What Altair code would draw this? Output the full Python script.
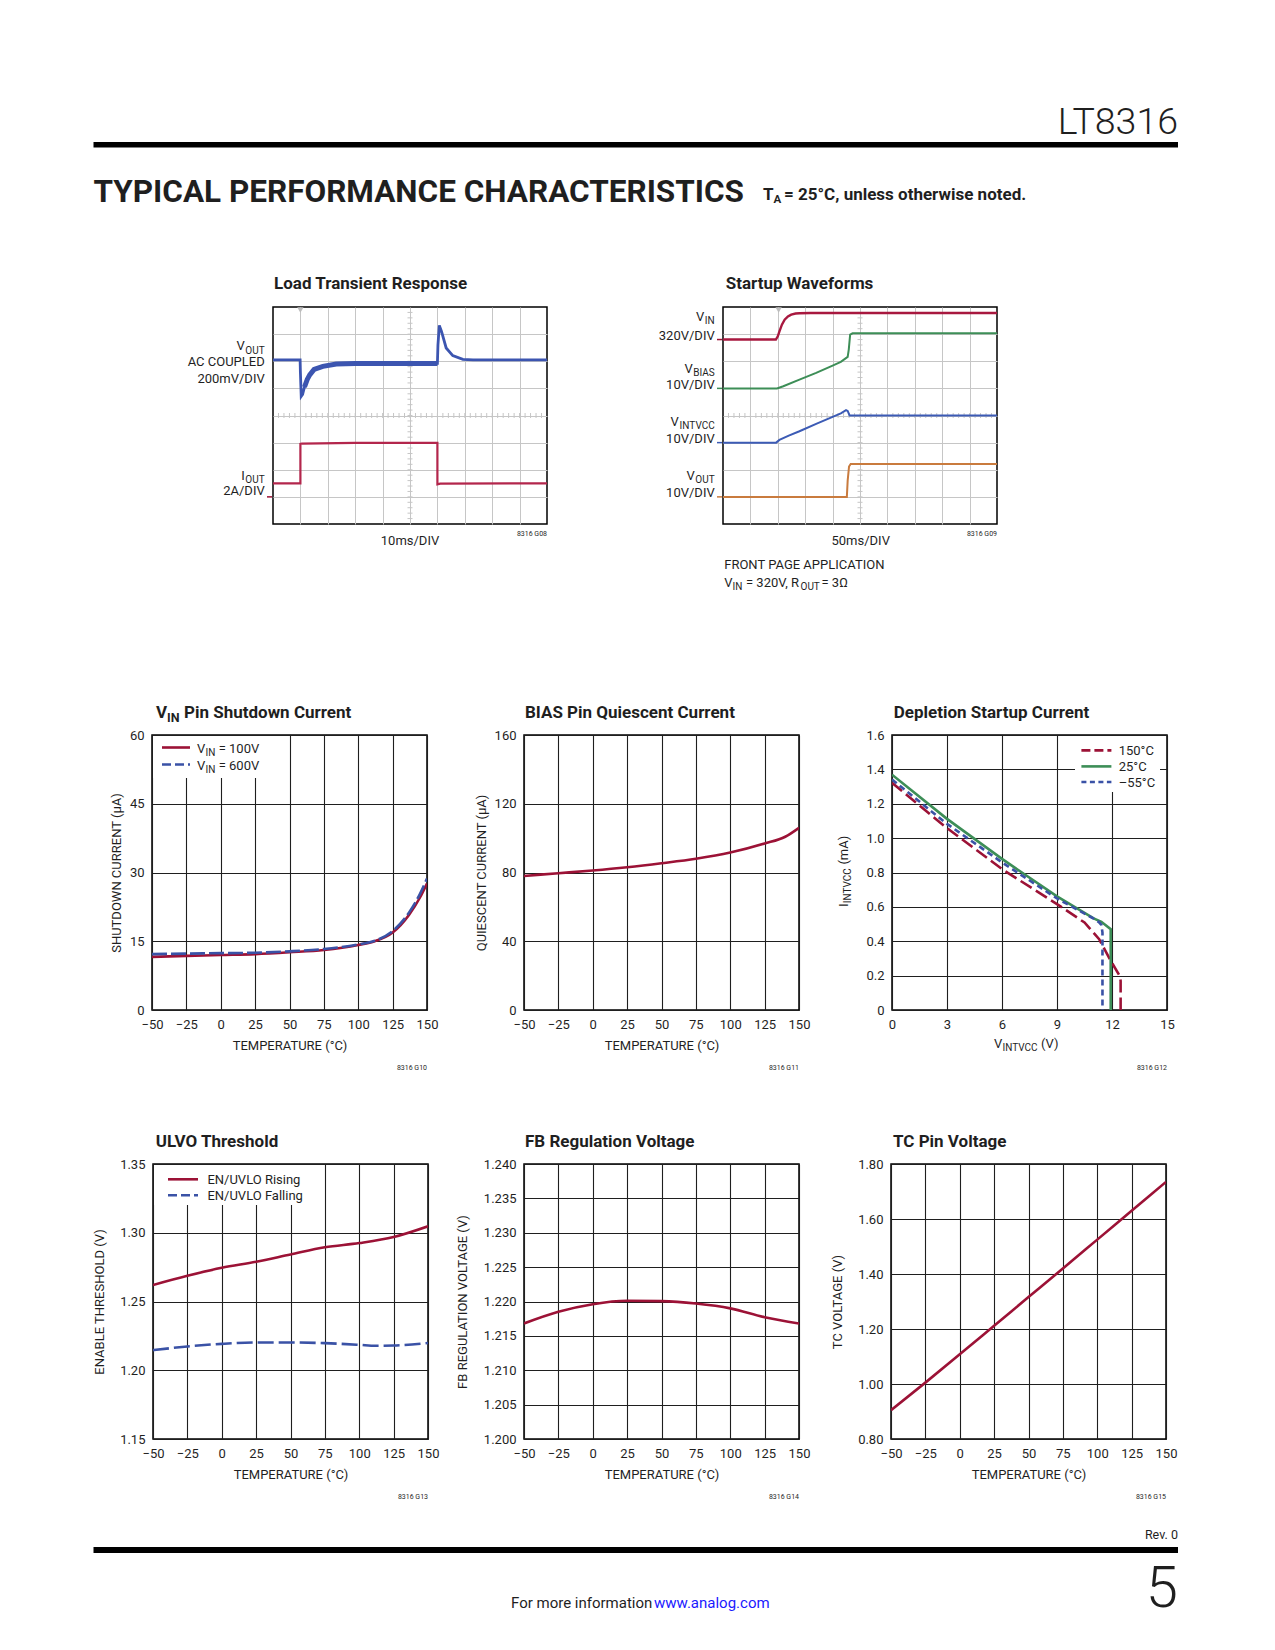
import altair as alt
import pandas as pd

FONT = "Roboto, Liberation Sans, sans-serif"
INK = "#1f1f1f"
RED = "#9c1236"
BLUE = "#3a52a6"
GREEN = "#3d8e57"
ORANGE = "#c97b3e"
SGRID = "#c6c6c6"

# ---------------- data ----------------
# Load transient (scope divisions, x 0-10, y 0-8)
LT_VOUT_X = [0, 0.99, 1.0, 1.03, 1.08, 1.15, 1.25, 1.34, 1.5, 1.82, 2.31, 3.0, 6.0, 6.02, 6.07, 6.15, 6.32, 6.56, 6.93, 7.3, 10]
LT_VOUT_Y = [6.05, 6.05, 5.6, 4.71, 4.78, 5.05, 5.33, 5.5, 5.7, 5.81, 5.9, 5.92, 5.92, 6.6, 7.32, 7.1, 6.49, 6.21, 6.07, 6.05, 6.05]
LT_BAND_X = [1.15, 1.25, 1.34, 1.5, 1.82, 2.31, 3.0, 6.0]
LT_BAND_Y = [5.05, 5.33, 5.5, 5.7, 5.81, 5.9, 5.92, 5.92]
LT_IOUT_X = [0, 1.0, 1.0, 1.05, 3.0, 6.0, 6.0, 6.1, 10]
LT_IOUT_Y = [1.5, 1.5, 2.95, 2.96, 2.99, 2.99, 1.46, 1.49, 1.5]

# Startup waveforms
SU_VIN_X = [0, 1.93, 2.0, 2.06, 2.15, 2.25, 2.37, 2.49, 2.65, 2.79, 3.2, 10]
SU_VIN_Y = [6.8, 6.8, 6.92, 7.1, 7.35, 7.53, 7.65, 7.72, 7.76, 7.77, 7.78, 7.78]
SU_VBIAS_X = [0, 1.97, 2.2, 2.79, 3.4, 4.0, 4.3, 4.55, 4.59, 4.64, 4.73, 10]
SU_VBIAS_Y = [5.0, 5.0, 5.08, 5.32, 5.57, 5.84, 5.98, 6.16, 6.43, 6.98, 7.03, 7.03]
SU_VINT_X = [0, 1.94, 2.06, 2.4, 2.79, 3.4, 4.0, 4.3, 4.49, 4.55, 4.62, 10]
SU_VINT_Y = [3.0, 3.0, 3.1, 3.26, 3.42, 3.69, 3.95, 4.08, 4.2, 4.17, 4.0, 4.0]
SU_VOUT_X = [0, 4.52, 4.55, 4.6, 4.66, 10]
SU_VOUT_Y = [1.0, 1.0, 1.6, 2.12, 2.21, 2.21]

# VIN pin shutdown current (uA)
SD_T = [-50, -25, 0, 25, 50, 75, 100, 112, 125, 137, 145, 150]
SD_100V = [11.6, 11.8, 12.0, 12.2, 12.6, 13.1, 14.2, 15.0, 16.9, 20.8, 24.6, 27.6]
SD_600V = [12.2, 12.3, 12.4, 12.5, 12.8, 13.3, 14.3, 15.1, 17.2, 21.3, 25.4, 28.7]

# BIAS pin quiescent current (uA)
BQ_T = [-50, -25, 0, 25, 50, 75, 100, 125, 140, 150]
BQ_I = [78.0, 79.6, 81.2, 83.1, 85.4, 88.0, 91.6, 96.9, 100.8, 106.0]

# Depletion startup current (mA) vs VINTVCC (V)
DP_150_X = [0, 3, 6, 9, 10.5, 11.3, 11.88, 12.42, 12.47, 12.47]
DP_150_Y = [1.322, 1.058, 0.82, 0.616, 0.509, 0.412, 0.296, 0.198, 0.17, 0.0]
DP_25_X = [0, 3, 6, 9, 11, 11.42, 11.93, 11.93]
DP_25_Y = [1.369, 1.112, 0.879, 0.661, 0.533, 0.513, 0.47, 0.0]
DP_M55_X = [0, 3, 6, 9, 10, 11, 11.3, 11.42, 11.48, 11.48]
DP_M55_Y = [1.341, 1.083, 0.859, 0.649, 0.59, 0.532, 0.51, 0.495, 0.45, 0.0]

# UVLO threshold (V)
UV_T = [-50, -25, 0, 25, 50, 75, 100, 125, 150]
UV_RISE = [1.262, 1.2687, 1.2745, 1.2789, 1.2842, 1.2894, 1.2925, 1.2969, 1.3047]
UV_FALL_T = [-50, -25, 0, 25, 50, 75, 100, 112, 125, 150]
UV_FALL = [1.2146, 1.2173, 1.2192, 1.2202, 1.2202, 1.2197, 1.2185, 1.2178, 1.2180, 1.2198]

# FB regulation voltage (V)
FB_T = [-50, -25, 0, 25, 50, 75, 100, 125, 150]
FB_V = [1.2168, 1.2185, 1.2196, 1.2201, 1.22005, 1.2197, 1.2190, 1.2177, 1.2168]

# TC pin voltage (V)
TC_T = [-50, -25, 0, 25, 50, 75, 100, 125, 150]
TC_V = [0.905, 1.005, 1.108, 1.212, 1.316, 1.42, 1.525, 1.63, 1.735]

# axis ticks
TEMP_TICKS = [-50, -25, 0, 25, 50, 75, 100, 125, 150]
SCOPE_XGRID = [1, 2, 3, 4, 5, 6, 7, 8, 9]
SCOPE_YGRID = [1, 2, 3, 4, 5, 6, 7]
MINOR_X = [i / 5 for i in range(1, 50)]
MINOR_Y = [i / 5 for i in range(1, 40)]

ONE = pd.DataFrame({"k": [0]})
LS = 13      # label size
SUB = 10     # subscript size
TS = 17      # panel title size


# ---------------- helpers ----------------
def txt(text, x, y, size=LS, weight="normal", align="left", color=INK, angle=0, baseline="alphabetic"):
    mk = dict(text=text, font=FONT, fontSize=size, fontWeight=weight, align=align,
              baseline=baseline, color=color)
    if angle:
        mk["angle"] = angle
    return alt.Chart(ONE).mark_text(**mk).encode(x=alt.value(x), y=alt.value(y))


def rect(x1, x2, y1, y2, fill):
    return alt.Chart(ONE).mark_rect(fill=fill).encode(
        x=alt.value(x1), x2=alt.value(x2), y=alt.value(y1), y2=alt.value(y2))


def seg(x1, x2, y, color, dash=None, width=2.6):
    mk = dict(color=color, strokeWidth=width)
    if dash:
        mk["strokeDash"] = dash
    return alt.Chart(ONE).mark_rule(**mk).encode(x=alt.value(x1), x2=alt.value(x2), y=alt.value(y))


def frame(top, bottom):
    # invisible vertical rule that fixes the row's vertical extent
    return alt.Chart(ONE).mark_rule(opacity=0, strokeOpacity=0).encode(
        x=alt.value(0), y=alt.value(top), y2=alt.value(bottom))


def spacer(w, h=1, top=None, bottom=None):
    if top is None:
        return alt.Chart(ONE).mark_point(opacity=0).properties(width=w, height=h)
    return alt.layer(frame(top, bottom)).properties(width=w, height=h)


def axis(values, title, fmt, lpad, tpad, expr=None):
    kw = dict(values=values, grid=True, gridColor=INK, gridWidth=1.1, domain=False, ticks=False,
              labelFont=FONT, labelFontSize=LS, labelColor=INK, labelPadding=lpad,
              labelFlush=False, labelOverlap=False, format=fmt)
    if expr:
        kw["labelExpr"] = expr
    if title:
        kw.update(title=title, titleFont=FONT, titleFontSize=LS, titleFontWeight="normal",
                  titleColor=INK, titlePadding=tpad)
    else:
        kw["title"] = None
    return alt.Axis(**kw)


PW, PH = 275, 275


def panel(series, xdom, xvals, xfmt, xtitle, ydom, yvals, yfmt, ytitle, ytpad,
          before, after, interp="monotone", yexpr=None):
    X = alt.X("x:Q", scale=alt.Scale(domain=xdom, nice=False, zero=False),
              axis=axis(xvals, xtitle, xfmt, 8, 8))
    Y = alt.Y("y:Q", scale=alt.Scale(domain=ydom, nice=False, zero=False),
              axis=axis(yvals, ytitle, yfmt, 8, ytpad, yexpr))
    lines = []
    for xs, ys, color, dash in series:
        df = pd.DataFrame({"x": xs, "y": ys, "i": list(range(len(xs)))})
        mk = dict(color=color, strokeWidth=2.6, interpolate=interp, clip=True)
        if dash:
            mk["strokeDash"] = dash
        lines.append(alt.Chart(df).mark_line(**mk).encode(x=X, y=Y, order="i:Q"))
    return alt.layer(*before, *lines, *after).properties(
        width=PW, height=PH, view=alt.ViewBackground(stroke="black", strokeWidth=1.5))


SW, SH = 274, 217


def scope(traces, markers, trig, extra):
    X = alt.X("x:Q", scale=alt.Scale(domain=[0, 10], nice=False, zero=False),
              axis=alt.Axis(values=SCOPE_XGRID, grid=True, gridColor=SGRID, gridWidth=1,
                            labels=False, ticks=False, domain=False, title=None))
    Y = alt.Y("y:Q", scale=alt.Scale(domain=[0, 8], nice=False, zero=False),
              axis=alt.Axis(values=SCOPE_YGRID, grid=True, gridColor=SGRID, gridWidth=1,
                            labels=False, ticks=False, domain=False, title=None))
    layers = [
        alt.Chart(pd.DataFrame({"x": MINOR_X})).mark_rule(color=SGRID, strokeWidth=1).encode(
            x=X, y=alt.value(SH / 2 - 2.5), y2=alt.value(SH / 2 + 2.5)),
        alt.Chart(pd.DataFrame({"y": MINOR_Y})).mark_rule(color=SGRID, strokeWidth=1).encode(
            y=Y, x=alt.value(SW / 2 - 2.5), x2=alt.value(SW / 2 + 2.5)),
        alt.Chart(pd.DataFrame({"x": [trig]})).mark_point(
            shape="triangle-down", size=40, filled=True, color="#bdbdbd", opacity=1).encode(
            x=X, y=alt.value(3)),
    ]
    for lvl, c in markers:
        layers.append(alt.Chart(pd.DataFrame({"y": [lvl]})).mark_rule(
            color=c, strokeWidth=1.5, clip=False).encode(y=Y, x=alt.value(-6), x2=alt.value(-1)))
    for xs, ys, c, w in traces:
        df = pd.DataFrame({"x": xs, "y": ys, "i": list(range(len(xs)))})
        layers.append(alt.Chart(df).mark_line(color=c, strokeWidth=w, interpolate="linear").encode(
            x=X, y=Y, order="i:Q"))
    return alt.layer(*layers, *extra).properties(
        width=SW, height=SH, view=alt.ViewBackground(stroke="black", strokeWidth=1.5))


# ---------------- row 1: scope shots ----------------
trans = scope(
    [(LT_VOUT_X, LT_VOUT_Y, "#3c55b0", 2.8), (LT_BAND_X, LT_BAND_Y, "#3c55b0", 5),
     (LT_IOUT_X, LT_IOUT_Y, "#b3264c", 2.2)],
    [(1.0, RED)], 1.0,
    [txt("Load Transient Response", 1, -18.3, TS, "bold"),
     txt("V", -28.3, 43.4, align="right"), txt("OUT", -8.3, 46.5, SUB, align="right"),
     txt("AC COUPLED", -8.3, 58.7, align="right"),
     txt("200mV/DIV", -8.3, 76, align="right"),
     txt("I", -28.3, 172.7, align="right"), txt("OUT", -8.3, 175.5, SUB, align="right"),
     txt("2A/DIV", -8.3, 187.7, align="right"),
     txt("10ms/DIV", 137, 237.7, align="center"),
     txt("8316 G08", SW, 229, 7, align="right")])

start = scope(
    [(SU_VIN_X, SU_VIN_Y, "#a8183f", 2.4), (SU_VBIAS_X, SU_VBIAS_Y, GREEN, 2),
     (SU_VINT_X, SU_VINT_Y, "#3c5bb5", 2), (SU_VOUT_X, SU_VOUT_Y, ORANGE, 2)],
    [(6.8, RED), (5.0, GREEN), (3.0, "#3c5bb5"), (1.0, ORANGE)], 2.03,
    [txt("Startup Waveforms", 2.7, -18.3, TS, "bold"),
     txt("V", -18.7, 14.4, align="right"), txt("IN", -8.3, 17.4, SUB, align="right"),
     txt("320V/DIV", -8.3, 32.7, align="right"),
     txt("V", -30.2, 66, align="right"), txt("BIAS", -8.3, 69, SUB, align="right"),
     txt("10V/DIV", -8.3, 81.7, align="right"),
     txt("V", -44.2, 119.4, align="right"), txt("INTVCC", -8.3, 122.4, SUB, align="right"),
     txt("10V/DIV", -8.3, 136, align="right"),
     txt("V", -28.3, 172.7, align="right"), txt("OUT", -8.3, 175.7, SUB, align="right"),
     txt("10V/DIV", -8.3, 190, align="right"),
     txt("50ms/DIV", 137.7, 237.7, align="center"),
     txt("8316 G09", SW, 229, 7, align="right"),
     txt("FRONT PAGE APPLICATION", 1.2, 262),
     txt("V", 1.2, 280), txt("IN", 9.6, 283, SUB),
     txt("= 320V, R", 23, 280), txt("OUT", 77.5, 283, SUB), txt("= 3Ω", 98.5, 280)])

# ---------------- row 2 ----------------
pA = panel(
    [(SD_T, SD_100V, RED, None), (SD_T, SD_600V, BLUE, [15, 4])],
    [-50, 150], TEMP_TICKS, "d", "TEMPERATURE (°C)",
    [0, 60], [0, 15, 30, 45, 60], "d", "SHUTDOWN CURRENT (µA)", 5.5,
    [rect(1, 114, 1, 43, "white"),
     seg(10, 38, 12.5, RED), seg(10, 38, 29.5, BLUE, [9, 4]),
     txt("V", 45, 17.5), txt("IN", 53.6, 20.5, SUB), txt("= 100V", 66.7, 17.5),
     txt("V", 45, 34.5), txt("IN", 53.6, 37.5, SUB), txt("= 600V", 66.7, 34.5)],
    [txt("V", 4, -17, TS, "bold"), txt("IN", 15, -13, 12.5, "bold"),
     txt("Pin Shutdown Current", 32, -17, TS, "bold"),
     txt("8316 G10", PW, PH + 59.5, 7, align="right")])

pB = panel(
    [(BQ_T, BQ_I, RED, None)],
    [-50, 150], TEMP_TICKS, "d", "TEMPERATURE (°C)",
    [0, 160], [0, 40, 80, 120, 160], "d", "QUIESCENT CURRENT (µA)", 5.5,
    [],
    [txt("BIAS Pin Quiescent Current", 1, -17, TS, "bold"),
     txt("8316 G11", PW, PH + 59.5, 7, align="right")])

pC = panel(
    [(DP_150_X, DP_150_Y, RED, [13, 5]), (DP_25_X, DP_25_Y, GREEN, None),
     (DP_M55_X, DP_M55_Y, BLUE, [6, 4])],
    [0, 15], [0, 3, 6, 9, 12, 15], "d", None,
    [0, 1.6], [0, 0.2, 0.4, 0.6, 0.8, 1.0, 1.2, 1.4, 1.6], ".1f", None, 8,
    [rect(183, 268, 1, 57, "white"),
     seg(189.4, 219.4, 15.4, RED, [9, 4]), seg(189.4, 219.4, 31.4, GREEN),
     seg(189.4, 219.4, 47, BLUE, [5, 3.5]),
     txt("150°C", 226.7, 20.4), txt("25°C", 226.7, 36.4), txt("–55°C", 226.7, 52)],
    [txt("Depletion Startup Current", 1.7, -17, TS, "bold"),
     txt("V", 102, 312.7), txt("INTVCC", 110.5, 315.7, SUB), txt("(V)", 149, 312.7),
     txt("I", -44.5, 172, angle=270), txt("INTVCC", -41.5, 168.2, SUB, angle=270),
     txt("(mA)", -44.5, 129.6, angle=270),
     txt("8316 G12", PW, PH + 59.5, 7, align="right")],
    interp="linear",
    yexpr="datum.value == 0 ? '0' : format(datum.value, '.1f')")

# ---------------- row 3 ----------------
pD = panel(
    [(UV_T, UV_RISE, RED, None), (UV_FALL_T, UV_FALL, BLUE, [16, 5])],
    [-50, 150], TEMP_TICKS, "d", "TEMPERATURE (°C)",
    [1.15, 1.35], [1.15, 1.20, 1.25, 1.30, 1.35], ".2f", "ENABLE THRESHOLD (V)", 13,
    [rect(1, 158, 1, 41, "white"),
     seg(15, 45, 15.3, RED), seg(15, 45, 31.3, BLUE, [9, 4]),
     txt("EN/UVLO Rising", 54.4, 20.3), txt("EN/UVLO Falling", 54.4, 36.3)],
    [txt("ULVO Threshold", 2.7, -17.5, TS, "bold"),
     txt("8316 G13", PW, PH + 59.5, 7, align="right")])

pE = panel(
    [(FB_T, FB_V, RED, None)],
    [-50, 150], TEMP_TICKS, "d", "TEMPERATURE (°C)",
    [1.2, 1.24], [1.200, 1.205, 1.210, 1.215, 1.220, 1.225, 1.230, 1.235, 1.240], ".3f",
    "FB REGULATION VOLTAGE (V)", 13.7,
    [],
    [txt("FB Regulation Voltage", 1, -17.5, TS, "bold"),
     txt("8316 G14", PW, PH + 59.5, 7, align="right")])

pF = panel(
    [(TC_T, TC_V, RED, None)],
    [-50, 150], TEMP_TICKS, "d", "TEMPERATURE (°C)",
    [0.8, 1.8], [0.8, 1.0, 1.2, 1.4, 1.6, 1.8], ".2f", "TC VOLTAGE (V)", 13.4,
    [],
    [txt("TC Pin Voltage", 2, -17.5, TS, "bold"),
     txt("8316 G15", PW, PH + 59.5, 7, align="right")])

# ---------------- header / footer ----------------
header = alt.layer(
    frame(0, 249),
    txt("LT8316", 1170, 126, 37.5, weight=300, align="right"),
    rect(85.5, 1170, 134, 139.5, "black"),
    txt("TYPICAL PERFORMANCE CHARACTERISTICS", 85.5, 194, 31.5, "bold"),
    txt("T", 755, 191.5, 17, "bold"),
    txt("A", 765.5, 195, 11.5, "bold"),
    txt("= 25°C, unless otherwise noted.", 776, 191.5, 17, "bold"),
).properties(width=1175, height=1)

footer = alt.layer(
    frame(0, 140),
    txt("Rev. 0", 1170, 29.5, 12.5, align="right"),
    rect(85.5, 1170, 38, 44, "black"),
    txt("5", 1170, 98, 58, weight=300, align="right"),
    txt("For more information", 503, 99, 15),
    txt("www.analog.com", 646, 99, 15, color="#1a1aff"),
).properties(width=1175, height=1)

row1 = alt.hconcat(spacer(265, 1, -50, 378), trans, spacer(176), start,
                   spacing=0, bounds="flush")
row2 = alt.hconcat(spacer(144, 1, -50, 379), pA, spacer(97), pB, spacer(93), pC,
                   spacing=0, bounds="flush")
row3 = alt.hconcat(spacer(145, 1, -50, 345), pD, spacer(96), pE, spacer(92), pF,
                   spacing=0, bounds="flush")

chart = alt.vconcat(header, row1, row2, row3, footer, spacing=0).configure_view(
    stroke=None).properties(padding=0, background="white")

chart.save("out.html", embed_options={"renderer": "svg", "actions": False})
